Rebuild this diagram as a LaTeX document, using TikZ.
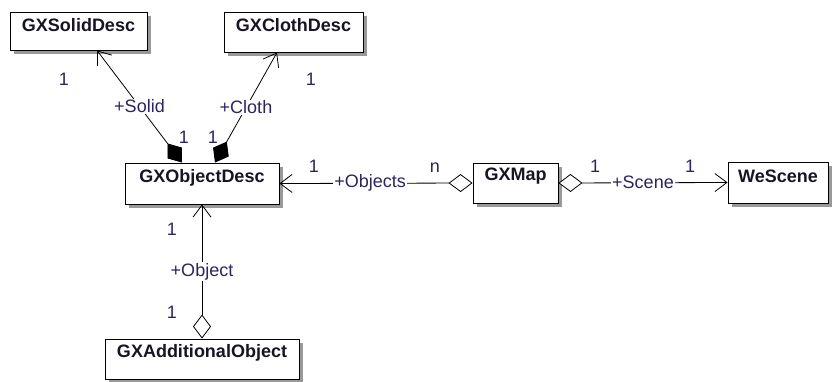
\documentclass[tikz,border=0pt]{standalone}
\usepackage{fontspec}
\setmainfont{Liberation Sans}
\usetikzlibrary{arrows.meta,shadows,calc}
\definecolor{lbl}{RGB}{45,35,95}
\definecolor{ttl}{RGB}{25,20,35}
\tikzset{
  cls/.style={draw=black, line width=0.9pt, fill=white, inner sep=0pt,
    drop shadow={shadow xshift=4pt, shadow yshift=-4pt, fill=black!40, opacity=1}},
  ttlfont/.style={font=\fontsize{18}{20}\selectfont\bfseries, text=ttl},
  conn/.style={draw=black, line width=0.8pt},
  lbltext/.style={font=\fontsize{18}{20}\selectfont, text=lbl, inner sep=1pt},
  mult/.style={lbltext, anchor=base},
  role/.style={lbltext, fill=white},
  barb/.tip={Straight Barb[length=12pt,width=18pt,line width=0.8pt]},
  compo/.style={{Diamond[length=24pt,width=18pt,fill=black]}-barb},
  aggr/.style={{Diamond[length=24pt,width=18pt,open,fill=white]}-barb},
}
\begin{document}
\begin{tikzpicture}[x=1pt,y=-1pt]
\useasboundingbox (0,0) rectangle (833,381);
% classes
\node[cls, minimum width=137pt, minimum height=38pt] (sd) at (78.5,31) {};
\node[ttlfont] (sdt) at ($(sd.north)+(0,14)$) {GXSolidDesc};
\node[cls, minimum width=139pt, minimum height=40pt] (cd) at (293.5,32) {};
\node[ttlfont] (cdt) at ($(cd.north)+(0,14)$) {GXClothDesc};
\node[cls, minimum width=154pt, minimum height=41pt] (od) at (202,183.5) {};
\node[ttlfont] (odt) at ($(od.north)+(0,15)$) {GXObjectDesc};
\node[cls, minimum width=85pt, minimum height=40pt] (mp) at (515.5,183) {};
\node[ttlfont] (mpt) at ($(mp.north)+(0,14)$) {GXMap};
\node[cls, minimum width=100pt, minimum height=41pt] (ws) at (778,182.5) {};
\node[ttlfont] (wst) at ($(ws.north)+(0,15)$) {WeScene};
\node[cls, minimum width=194pt, minimum height=40pt] (ao) at (202,359) {};
\node[ttlfont] (aot) at ($(ao.north)+(0,14)$) {GXAdditionalObject};
% connectors
\draw[conn, compo] ([xshift=-20pt]od.north) -- node[role, pos=0.5] (rsolid) {+Solid} ([xshift=18.5pt]sd.south);
\draw[conn, compo] ([xshift=13pt]od.north) -- node[role, pos=0.5] (rcloth) {+Cloth} ([xshift=-16.5pt]cd.south);
\draw[conn, aggr] (mp.west) -- node[role, pos=0.53] (robj) {+Objects} (od.east);
\draw[conn, aggr] (mp.east) -- node[role, pos=0.5] (rscene) {+Scene} (ws.west);
\draw[conn, aggr] (ao.north) -- node[role, pos=0.5] (rob) {+Object} (od.south);
% multiplicities
\node[mult] (m1) at (64,85) {1};
\node[mult] (m2) at (184,143) {1};
\node[mult] (m3) at (311,85) {1};
\node[mult] (m4) at (213,143) {1};
\node[mult] (m5) at (314,172) {1};
\node[mult] (m6) at (435,172) {n};
\node[mult] (m7) at (595,172) {1};
\node[mult] (m8) at (690,172) {1};
\node[mult] (m9) at (172,235) {1};
\node[mult] (m10) at (172,318) {1};
\end{tikzpicture}
\end{document}
